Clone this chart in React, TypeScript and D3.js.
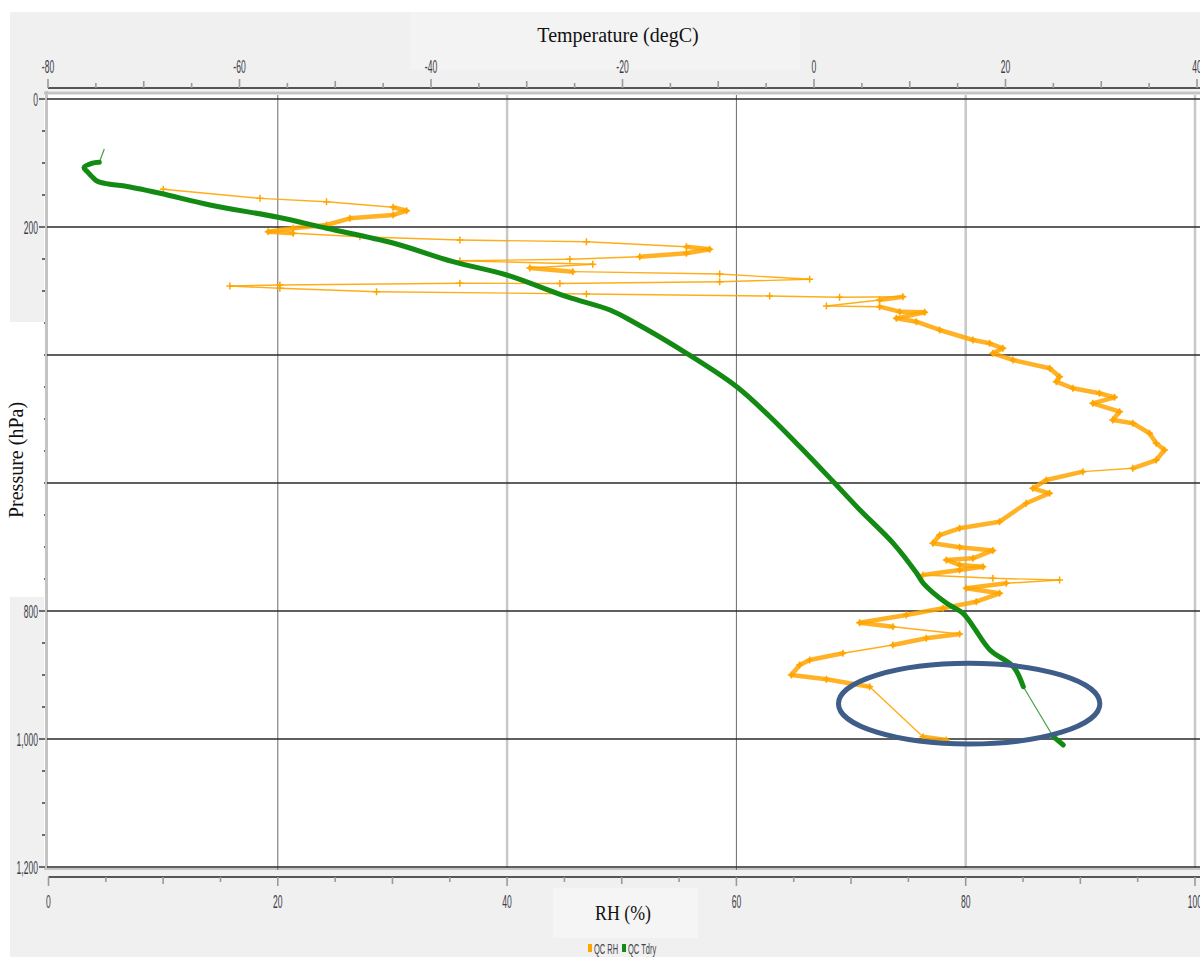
import React from 'react';
import * as d3 from 'd3';

// ---------- DATA ----------
// QC Tdry: temperature (degC) vs pressure (hPa)
const tdryTemp = [
  -74.12, -74.64, -75.44, -76.24, -75.9, -75.4, -74.9, -73.7, -72.0, -68.30, -63.08, -55.98, -50.89,
  -43.97, -37.70, -32.09, -25.83, -21.31, -18.90, -13.30, -8.07, -4.60, -1.47, 2.02, 4.80,
  8.28, 10.73, 11.42, 13.86, 15.59, 16.64, 18.38, 20.81, 21.86, 24.99, 26.04,
];
const tdryPres = [
  78.1, 98.9, 100.5, 107.3, 113.6, 121.4, 128.2, 132.8, 135.9, 147.3, 165.6, 184.8, 202.0,
  225.0, 254.2, 275.0, 308.9, 329.7, 348.0, 397.3, 449.5, 496.4, 543.3, 598.0, 642.2,
  694.2, 741.1, 756.7, 788.0, 804.0, 824.5, 860.9, 887.0, 918.3, 996.4, 1009.4,
];
// segments (index of start point) where the Tdry record is sparse
const tdrySparseAfter = [0, 33];

// QC RH: relative humidity (%) vs pressure (hPa)
const rhValue = [
  10.01, 18.44, 24.25, 30.06, 31.23, 30.06, 26.29, 24.25, 21.34, 19.16, 21.34, 27.16, 35.88,
  46.92, 55.64, 57.67, 55.64, 51.57, 45.47, 35.88, 47.47, 41.98, 45.73, 58.54, 66.39,
  58.54, 44.6, 35.88, 20.18, 15.82, 20.18, 28.61, 46.92, 62.9, 69.0, 74.52, 72.49,
  67.85, 72.49, 74.24, 76.42, 73.95, 75.69, 77.73, 80.63, 82.08, 83.24, 82.37, 84.11,
  87.32, 88.19, 87.9, 89.35, 91.67, 92.98, 91.09, 93.42, 92.83, 94.58, 96.03, 96.62,
  97.34, 96.62, 94.58, 90.22, 87.03, 85.86, 87.31, 85.28, 82.96, 79.47, 77.73, 77.14,
  79.47, 82.37, 80.63, 78.31, 79.47, 81.5, 79.47, 76.27, 82.37, 88.19, 83.54, 80.05,
  82.96, 80.92, 78.01, 74.82, 70.75, 73.65, 79.47, 76.56, 73.65, 69.29, 66.39, 65.52,
  64.79, 67.85, 71.62, 76.27, 78.31,
];
const rhPres = [
  141.1, 155.2, 160.5, 169.2, 174.5, 181.3, 186.4, 196.9, 202.0, 207.3, 209.8, 215.2, 220.3,
  223.0, 230.8, 234.8, 241.1, 246.4, 250.5, 252.7, 258.3, 264.1, 269.8, 273.4, 281.7,
  285.5, 288.3, 288.0, 290.6, 292.2, 295.8, 301.1, 304.7, 307.8, 309.8, 308.9, 314.1,
  323.4, 324.5, 332.3, 333.3, 342.7, 348.0, 360.9, 376.6, 381.7, 389.5, 397.3, 407.8,
  420.8, 433.9, 441.7, 452.0, 459.8, 466.1, 475.5, 488.6, 501.6, 506.7, 522.3, 538.0,
  548.4, 564.1, 577.0, 582.3, 595.3, 608.3, 616.1, 631.7, 660.5, 670.8, 681.3, 694.2,
  700.3, 705.5, 717.7, 720.3, 728.1, 730.8, 735.9, 743.8, 748.9, 751.6, 756.7, 764.5,
  772.3, 785.5, 795.8, 806.3, 818.3, 824.5, 835.9, 842.7, 853.1, 866.1, 876.6, 884.4,
  900.0, 906.7, 918.3, 996.4, 1001.6,
];

// axes
const tempDomain = [-80, 40];
const rhDomain = [0, 100];
const presDomain = [0, 1200];
const tempTicks = d3.range(-80, 41, 5);
const rhTicks = d3.range(0, 101, 5);
const presTicks = d3.range(0, 1201, 50);
const presGrid = [0, 200, 400, 600, 800, 1000, 1200];
const rhGridDark = [20, 60];
const rhGridLight = [40, 80, 100];

const legendItems = [
  { label: 'QC RH', color: '#FFA500' },
  { label: 'QC Tdry', color: '#138A13' },
];

// annotation ellipse (data coords)
const noteCenterRH = 80.3;
const noteCenterP = 944.8;
const noteHalfRH = 11.4;
const noteHalfP = 63;

// ---------- CHART ----------
const W = 1200;
const H = 957;

const xT = d3.scaleLinear().domain(tempDomain).range([48, 1197]);
const xRH = d3.scaleLinear().domain(rhDomain).range([48.5, 1195]);
const yP = d3.scaleLinear().domain(presDomain).range([99, 867]);

const tickFont = '"Liberation Sans", Arial, sans-serif';
const serif = '"Liberation Serif", "Times New Roman", serif';

function NarrowText({ x, y, text, anchor = 'middle', size = 19, sx = 0.45, fill = '#3c3c48' }: any) {
  return (
    <g transform={`translate(${x},${y}) scale(${sx},1)`}>
      <text x={0} y={0} textAnchor={anchor} fontFamily={tickFont} fontSize={size} fill={fill}>
        {text}
      </text>
    </g>
  );
}

export default function App() {
  const green = '#138A13';
  const orange = '#FFA500';

  const rhPts = rhValue.map((v, i) => [xRH(v), yP(rhPres[i])] as [number, number]);
  const tPts = tdryTemp.map((v, i) => [xT(v), yP(tdryPres[i])] as [number, number]);

  const rhSegs = rhPts.slice(1).map((p, i) => {
    const a = rhPts[i];
    const len = Math.hypot(p[0] - a[0], p[1] - a[1]);
    return { a, b: p, thin: len > 48 };
  });

  // Tdry: split into dense runs (smooth thick) and sparse segments (thin)
  const runs: [number, number][][] = [];
  const sparse: [number, number][][] = [];
  let cur: [number, number][] = [tPts[0]];
  for (let i = 0; i < tPts.length - 1; i++) {
    if (tdrySparseAfter.includes(i)) {
      if (cur.length > 1) runs.push(cur);
      sparse.push([tPts[i], tPts[i + 1]]);
      cur = [tPts[i + 1]];
    } else {
      cur.push(tPts[i + 1]);
    }
  }
  if (cur.length > 1) runs.push(cur);
  const smooth = d3.line().curve(d3.curveCatmullRom.alpha(0.5));

  const fmt = d3.format(',');

  const ex = xRH(noteCenterRH);
  const ey = yP(noteCenterP);
  const erx = xRH(noteCenterRH + noteHalfRH) - ex;
  const ery = yP(noteCenterP + noteHalfP) - ey;

  return (
    <svg
      width={W}
      height={H}
      style={{ position: 'absolute', left: 0, top: 0, display: 'block' }}
    >
      <rect x={0} y={0} width={W} height={H} fill="#ffffff" />
      <rect x={10} y={12} width={W - 10} height={H - 12} fill="#f0f0f0" />
      {/* title box */}
      <rect x={410} y={12} width={390} height={58} fill="#f3f3f3" />
      {/* RH label box */}
      <rect x={553} y={888} width={145} height={50} fill="#f5f5f5" />

      {/* plot area */}
      <rect x={44} y={91} width={W - 44} height={779} fill="#ffffff" />
      <line x1={44} x2={W} y1={93} y2={93} stroke="#c4c4c4" strokeWidth={3} />
      <line x1={44} x2={W} y1={869} y2={869} stroke="#c4c4c4" strokeWidth={2} />
      <line x1={46.5} x2={46.5} y1={91} y2={870} stroke="#c4c4c4" strokeWidth={3} />

      {/* vertical grid */}
      {rhGridLight.map((v) => (
        <line key={'gl' + v} x1={xRH(v)} x2={xRH(v)} y1={95} y2={870} stroke="#c8c8c8" strokeWidth={2.5} />
      ))}
      {rhGridDark.map((v) => (
        <line key={'gd' + v} x1={xRH(v)} x2={xRH(v)} y1={95} y2={870} stroke="#6a6a6a" strokeWidth={1} />
      ))}
      {/* horizontal grid */}
      {presGrid.map((p) => (
        <line key={'hp' + p} x1={47} x2={W} y1={yP(p)} y2={yP(p)} stroke="#2a2a2a" strokeWidth={1.4} />
      ))}

      {/* top temperature axis */}
      <line x1={xT(-80)} x2={W} y1={88} y2={88} stroke="#222" strokeWidth={1.6} />
      {tempTicks.map((t) => {
        const len = t % 20 === 0 ? 9 : t % 10 === 0 ? 7 : 5;
        return (
          <line key={'tt' + t} x1={xT(t)} x2={xT(t)} y1={88 - len} y2={88} stroke="#9a9a9a" strokeWidth={1.6} />
        );
      })}
      {tempTicks
        .filter((t) => t % 20 === 0)
        .map((t) => (
          <NarrowText key={'tl' + t} x={xT(t)} y={73} text={String(t)} />
        ))}

      {/* bottom RH axis */}
      <line x1={xRH(0)} x2={W} y1={877} y2={877} stroke="#222" strokeWidth={1.6} />
      {rhTicks.map((t) => {
        const len = t % 20 === 0 ? 9 : t % 10 === 0 ? 7 : 5;
        return (
          <line key={'rt' + t} x1={xRH(t)} x2={xRH(t)} y1={877} y2={877 + len} stroke="#9a9a9a" strokeWidth={1.6} />
        );
      })}
      {rhTicks
        .filter((t) => t % 20 === 0)
        .map((t) => (
          <NarrowText key={'rl' + t} x={xRH(t)} y={908} text={String(t)} />
        ))}

      {/* left pressure axis */}
      {presTicks.map((p) => {
        const len = p % 200 === 0 ? 6 : 3;
        return (
          <line key={'pt' + p} x1={45 - len} x2={45} y1={yP(p)} y2={yP(p)} stroke="#333" strokeWidth={1.4} />
        );
      })}
      {presTicks
        .filter((p) => p % 200 === 0)
        .map((p) => (
          <NarrowText key={'pl' + p} x={38} y={yP(p) + 7} text={fmt(p)} anchor="end" />
        ))}
      {/* pressure label box */}
      <rect x={10} y={322} width={34} height={275} fill="#ffffff" />

      {/* titles */}
      <text x={618} y={42} textAnchor="middle" fontFamily={serif} fontSize={20} fill="#111">
        Temperature (degC)
      </text>
      <g transform="translate(623,920) scale(0.85,1)">
        <text x={0} y={0} textAnchor="middle" fontFamily={serif} fontSize={21} fill="#111">
          RH (%)
        </text>
      </g>
      <text
        transform={`translate(23,460) rotate(-90)`}
        textAnchor="middle"
        fontFamily={serif}
        fontSize={20}
        fill="#111"
      >
        Pressure (hPa)
      </text>

      {/* RH series */}
      <g>
        {rhSegs.map((s, i) => (
          <line
            key={'rs' + i}
            x1={s.a[0]}
            y1={s.a[1]}
            x2={s.b[0]}
            y2={s.b[1]}
            stroke={orange}
            strokeOpacity={s.thin ? 0.9 : 0.85}
            strokeWidth={s.thin ? 1.4 : 4.5}
            strokeLinecap="round"
          />
        ))}
        {rhPts.map((p, i) => (
          <path
            key={'rm' + i}
            d={`M${p[0] - 3.5},${p[1]}h7M${p[0]},${p[1] - 3.5}v7`}
            stroke={orange}
            strokeWidth={1.5}
          />
        ))}
      </g>

      {/* Tdry series */}
      <g>
        {sparse.map((s, i) => (
          <path key={'tsp' + i} d={d3.line()(s) || ''} stroke={green} strokeOpacity={0.8} strokeWidth={1.2} fill="none" />
        ))}
        {runs.map((r, i) => (
          <path
            key={'trun' + i}
            d={smooth(r) || ''}
            stroke={green}
            strokeWidth={5}
            fill="none"
            strokeLinecap="round"
            strokeLinejoin="round"
          />
        ))}
      </g>

      {/* annotation ellipse */}
      <ellipse cx={ex} cy={ey} rx={erx} ry={ery} fill="none" stroke="#3e5d89" strokeWidth={5} />

      {/* legend */}
      {legendItems.map((it, i) => {
        const x0 = 588 + i * 34;
        return (
          <g key={'lg' + i}>
            <rect x={x0} y={944} width={4} height={8} fill={it.color} />
            <NarrowText x={x0 + 6} y={954} text={it.label} anchor="start" size={15} sx={0.5} fill="#444" />
          </g>
        );
      })}
    </svg>
  );
}
